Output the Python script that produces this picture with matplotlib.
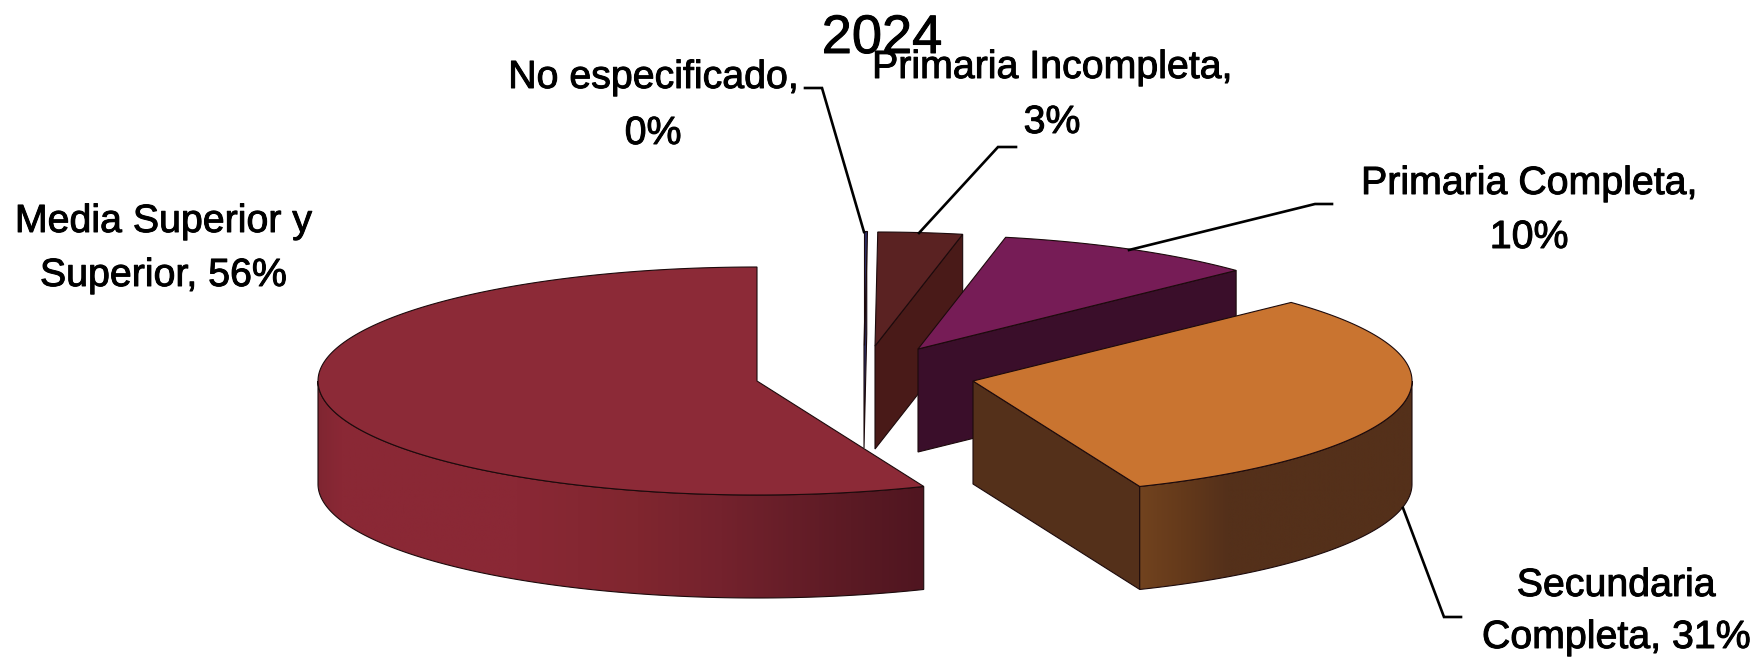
# Pastel 3D "2024": escolaridad, sectores separados
import numpy as np
import matplotlib
matplotlib.use("Agg")
import matplotlib.pyplot as plt
import matplotlib.patheffects as pe
from matplotlib.colors import LinearSegmentedColormap
from matplotlib.patches import Polygon

categorias = ["No especificado", "Primaria Incompleta", "Primaria Completa",
              "Secundaria Completa", "Media Superior y Superior"]
valores = [0.1, 3.1, 9.7, 30.9, 56.2]

plt.rcParams['font.family'] = ['Liberation Sans', 'DejaVu Sans']

W, H = 1760, 659
RX, RY, ALTO = 439, 114, 103

# centro de cada sector ya separado, en pixeles
centros = [(864, 345), (875, 346), (918, 349), (973, 381), (757, 381)]
col_arriba = ['#2c2f66', '#5a2222', '#761c56', '#c97430', '#8c2a37']
col_lado = ['#2c2f66', '#491a18', '#3a0e2a', '#54301a', '#8a2835']
# degradado de la pared exterior: (x en pixeles, color)
paredes = {
    3: [(1139, '#73441f'), (1185, '#653a1b'), (1230, '#54301a'), (1412, '#54301a')],
    4: [(316, '#7c2530'), (345, '#8a2835'), (520, '#8a2835'), (637, '#80262f'),
        (720, '#74222d'), (847, '#5b1a24'), (922, '#4f1520')],
}
BORDE = '#1c0a0c'

# lineas guia y etiquetas
guias = [
    [(805, 88), (822, 88), (864, 232)],
    [(1016, 147), (998, 147), (919, 233)],
    [(1332, 204), (1315, 204), (1129, 250)],
    [(1461, 617), (1444, 617), (1403, 508)],
]
pos_etiquetas = [(653, 88, 144), (1052, 78, 133), (1529, 194, 248),
                 (1616, 596, 648), (163, 232, 286)]
palabras_linea1 = [2, 2, 2, 1, 3]
trazo = [pe.withStroke(linewidth=0.7, foreground='black')]


def arco(c, a0, a1, dy=0, n=200):
    # angulos en grados, horario desde arriba
    t = np.radians(np.linspace(a0, a1, n))
    return np.column_stack([c[0] + RX * np.sin(t), c[1] - RY * np.cos(t) + dy])


fig = plt.figure(figsize=(W / 100, H / 100), dpi=100)
ax = fig.add_axes([0, 0, 1, 1])
ax.axis('off')

limites = np.cumsum([0] + valores) / sum(valores) * 360

for i, c in enumerate(centros):
    a0, a1 = limites[i], limites[i + 1]
    z = 2 + i

    # cara radial visible
    if a1 < 180:
        p = arco(c, a1, a1, n=1)[0]
        cara = [c, p, (p[0], p[1] + ALTO), (c[0], c[1] + ALTO)]
        ax.add_patch(Polygon(cara, fc=col_lado[i], ec=BORDE, lw=0.8, zorder=z))

    # pared exterior con degradado
    if i in paredes:
        sup = arco(c, max(a0, 90), min(a1, 270))
        inf = arco(c, max(a0, 90), min(a1, 270), dy=ALTO)[::-1]
        forma = Polygon(np.vstack([sup, inf]), fc='none', ec=BORDE, lw=0.8, zorder=z + 0.2)
        ax.add_patch(forma)
        xs = [s[0] for s in paredes[i]]
        frac = [(x - xs[0]) / (xs[-1] - xs[0]) for x in xs]
        cmap = LinearSegmentedColormap.from_list('p', list(zip(frac, [s[1] for s in paredes[i]])))
        img = ax.imshow(np.linspace(0, 1, 512)[None, :], cmap=cmap, aspect='auto',
                        extent=(xs[0] - 6, xs[-1] + 6, c[1] + RY + ALTO + 5, c[1] - 5), zorder=z + 0.1)
        img.set_clip_path(forma)

    # tapa
    tapa = np.vstack([[c], arco(c, a0, a1)])
    ax.add_patch(Polygon(tapa, fc=col_arriba[i], ec=BORDE, lw=0.8, zorder=z + 0.3))

for g in guias:
    g = np.array(g)
    ax.plot(g[:, 0], g[:, 1], color='black', lw=1.9, zorder=20, solid_joinstyle='miter')

for cat, v, pos, n in zip(categorias, valores, pos_etiquetas, palabras_linea1):
    partes = f"{cat}, {round(v)}%".split(" ")
    ax.text(pos[0], pos[1], " ".join(partes[:n]), fontsize=28.3, ha='center', va='baseline',
            zorder=21, path_effects=trazo)
    ax.text(pos[0], pos[2], " ".join(partes[n:]), fontsize=28.3, ha='center', va='baseline',
            zorder=21, path_effects=trazo)

ax.text(882, 53, "2024", fontsize=39, ha='center', va='baseline', zorder=21, path_effects=trazo)

ax.set_xlim(0, W)
ax.set_ylim(H, 0)
fig.savefig("out.png", dpi=100, facecolor='white')
